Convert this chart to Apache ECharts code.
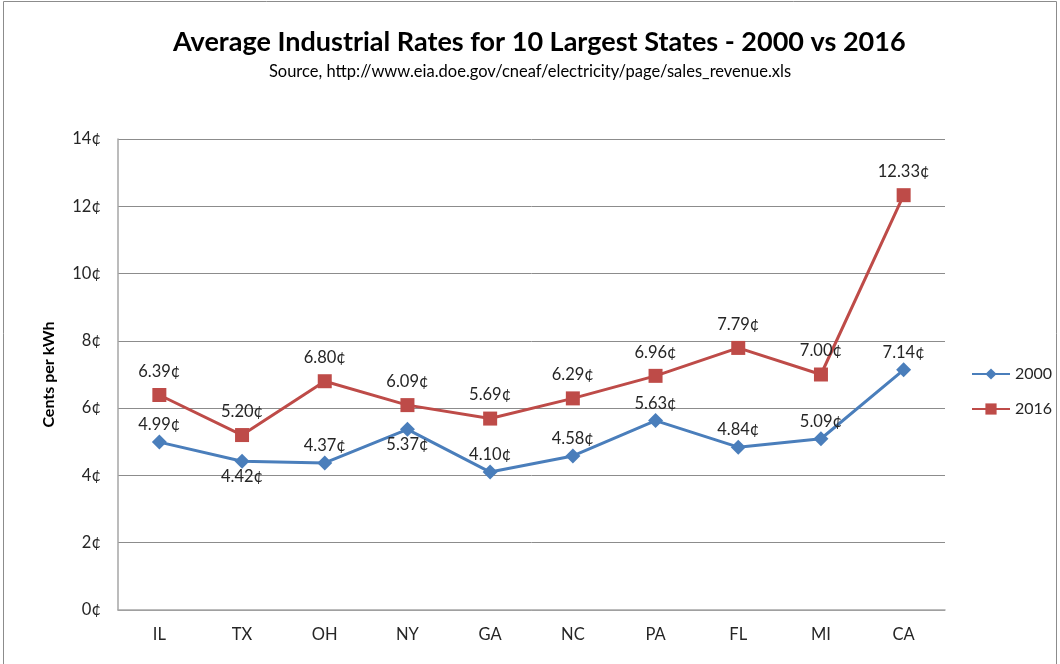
<!DOCTYPE html>
<html>
<head>
<meta charset="utf-8">
<script src="https://cdn.jsdelivr.net/npm/echarts@6/dist/echarts.min.js"></script>
<style>
  html, body { margin: 0; padding: 0; background: #fff; }
  #chart { width: 1060px; height: 664px; }
</style>
</head>
<body>
<div id="chart"></div>
<script>
const states = ['IL', 'TX', 'OH', 'NY', 'GA', 'NC', 'PA', 'FL', 'MI', 'CA'];
const rates2000 = [4.99, 4.42, 4.37, 5.37, 4.10, 4.58, 5.63, 4.84, 5.09, 7.14];
const rates2016 = [6.39, 5.20, 6.80, 6.09, 5.69, 6.29, 6.96, 7.79, 7.00, 12.33];
// where each 2000 label sits relative to its point
const labelPos2000 = ['top', 'bottom', 'top', 'bottom', 'top', 'top', 'top', 'top', 'top', 'top'];
const yTicks = [0, 2, 4, 6, 8, 10, 12, 14];

const font = 'Lato, "Open Sans", sans-serif';
const textColor = '#262626';

function cents(v, digits) {
  return v.toFixed(digits) + '¢';
}

const chart = echarts.init(document.getElementById('chart'), null, { renderer: 'canvas' });

chart.setOption({
  animation: false,
  textStyle: { fontFamily: font },
  title: [
    {
      text: 'Average Industrial Rates for 10 Largest States - 2000 vs 2016',
      left: 173,
      top: 29,
      padding: 0,
      textStyle: { fontFamily: font, fontSize: 27, fontWeight: 'bold', color: '#000' }
    },
    {
      text: 'Source, http://www.eia.doe.gov/cneaf/electricity/page/sales_revenue.xls',
      left: 'center',
      top: 63,
      padding: 0,
      textStyle: { fontFamily: font, fontSize: 16.5, fontWeight: 'normal', color: '#000' }
    }
  ],
  graphic: [{
    type: 'rect',
    shape: { x: 3.5, y: 1.5, width: 1053, height: 680 },
    style: { fill: 'none', stroke: '#8c8c8c', lineWidth: 1 },
    silent: true
  }],
  legend: {
    orient: 'vertical',
    left: 971,
    top: 366,
    padding: 0,
    itemGap: 19,
    itemWidth: 38,
    itemHeight: 14,
    textStyle: { fontFamily: font, fontSize: 16, color: textColor },
    data: ['2000', '2016']
  },
  grid: { left: 118, right: 115, top: 139, bottom: 54 },
  xAxis: {
    type: 'category',
    data: states,
    boundaryGap: true,
    axisLine: { lineStyle: { color: '#a6a6a6', width: 1.5 } },
    axisTick: { show: false },
    axisLabel: { margin: 16, fontSize: 16.5, color: textColor, fontFamily: font }
  },
  yAxis: {
    type: 'value',
    min: yTicks[0],
    max: yTicks[yTicks.length - 1],
    interval: 2,
    name: 'Cents per kWh',
    nameLocation: 'middle',
    nameGap: 61,
    nameTextStyle: { fontFamily: font, fontSize: 16, fontWeight: 'bold', color: '#000' },
    axisLine: { show: true, lineStyle: { color: '#a6a6a6', width: 1.5 } },
    axisTick: { show: false },
    axisLabel: { margin: 17, fontSize: 16.5, color: textColor, fontFamily: font, formatter: (v) => v + '¢' },
    splitLine: { lineStyle: { color: '#8c8c8c', width: 1 } }
  },
  series: [
    {
      name: '2000',
      type: 'line',
      data: rates2000.map((v, i) => ({
        value: v,
        label: { position: labelPos2000[i], distance: labelPos2000[i] === 'top' ? 1 : -1 }
      })),
      symbol: 'diamond',
      symbolSize: 15,
      itemStyle: { color: '#4a7ebb' },
      lineStyle: { color: '#4a7ebb', width: 3 },
      label: {
        show: true,
        fontSize: 16.5,
        color: textColor,
        fontFamily: font,
        formatter: (p) => cents(p.value, 2)
      }
    },
    {
      name: '2016',
      type: 'line',
      data: rates2016,
      symbol: 'rect',
      symbolSize: 14,
      itemStyle: { color: '#be4b48' },
      lineStyle: { color: '#be4b48', width: 3 },
      label: {
        show: true,
        position: 'top',
        distance: 8,
        fontSize: 16.5,
        color: textColor,
        fontFamily: font,
        formatter: (p) => cents(p.value, 2)
      }
    }
  ]
});
</script>
</body>
</html>
